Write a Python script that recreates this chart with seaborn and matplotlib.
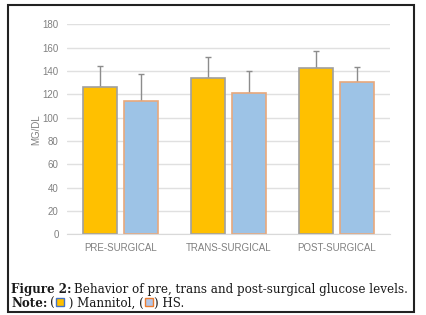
import pandas as pd
import numpy as np
import matplotlib
matplotlib.use("Agg")
import matplotlib.pyplot as plt
from matplotlib.patches import Rectangle
import seaborn as sns

# data
phases = ['PRE-SURGICAL', 'TRANS-SURGICAL', 'POST-SURGICAL']
groups = ['Mannitol', 'HS']
mannitol = [126.5, 134.2, 142.8]
hs = [114.0, 121.4, 130.3]
mannitol_top = [144.0, 151.7, 156.9]
hs_top = [137.0, 140.2, 143.1]

df = pd.DataFrame({
    'phase': phases * 2,
    'group': [groups[0]] * 3 + [groups[1]] * 3,
    'value': mannitol + hs,
})

sns.set_style("white")
fig = plt.figure(figsize=(4.26, 3.15), dpi=100)
ax = fig.add_axes([67 / 426, 1 - 234.3 / 315, 323 / 426, 210 / 315])

colors = {'Mannitol': '#FFC000', 'HS': '#9DC3E6'}
edges = {'Mannitol': '#A0A0A0', 'HS': '#E8A87C'}
sns.barplot(data=df, x='phase', y='value', hue='group', order=phases,
            hue_order=groups, palette=colors, width=0.762, gap=0.17,
            errorbar=None, legend=False, ax=ax, saturation=1, zorder=2)

tops = {'Mannitol': mannitol_top, 'HS': hs_top}
vals = {'Mannitol': mannitol, 'HS': hs}
for cont, g in zip(ax.containers, groups):
    xs = []
    for bar in cont:
        bar.set_edgecolor(edges[g])
        bar.set_linewidth(1.2)
        xs.append(bar.get_x() + bar.get_width() / 2)
    up = np.array(tops[g]) - np.array(vals[g])
    ax.errorbar(xs, vals[g], yerr=[np.zeros(3), up], fmt='none',
                ecolor='#8C8C8C', elinewidth=1, capsize=2.5, capthick=1, zorder=1)

ax.set_ylim(0, 180)
ax.set_xlim(-0.5, 2.5)
ax.set_yticks(range(0, 181, 20))
ax.yaxis.grid(True, color='#E0E0E0', linewidth=1)
ax.set_axisbelow(True)
for s in ['top', 'right', 'left']:
    ax.spines[s].set_visible(False)
ax.spines['bottom'].set_color('#D9D9D9')
ax.tick_params(axis='both', length=0, labelsize=7, colors='#808080', pad=6)
for lab in ax.get_xticklabels() + ax.get_yticklabels():
    lab.set_family('Liberation Sans')
ax.set_xlabel('')
ax.set_ylabel('MG/DL', fontsize=7, color='#808080', family='Liberation Sans', labelpad=1)

# outer frame
fig.patches.append(Rectangle((8 / 426, 1 - 312 / 315), 406 / 426, 307 / 315,
                             transform=fig.transFigure, fill=False,
                             edgecolor='#222222', linewidth=1.5))

# caption
serif = 'DejaVu Serif'
fig.canvas.draw()
r = fig.canvas.get_renderer()


def put(x, y, s, **kw):
    t = fig.text(x / 426, 1 - y / 315, s, va='baseline', ha='left', family=serif,
                 fontsize=8.6, color='#1a1a1a', **kw)
    bb = t.get_window_extent(renderer=r)
    return x + bb.width


x = put(11, 293, 'Figure 2:', weight='bold')
put(x + 3, 293, 'Behavior of pre, trans and post-surgical glucose levels.')

x = put(11, 307, 'Note:', weight='bold')
x = put(x + 3, 307, '(')
fig.patches.append(Rectangle(((x + 1) / 426, 1 - 306 / 315), 8 / 426, 8 / 315,
                             transform=fig.transFigure, facecolor='#FFC000',
                             edgecolor='#4472C4', linewidth=1))
x = put(x + 10, 307, ' ) Mannitol, (')
fig.patches.append(Rectangle(((x + 1) / 426, 1 - 306 / 315), 8 / 426, 8 / 315,
                             transform=fig.transFigure, facecolor='#B4C7E7',
                             edgecolor='#ED7D31', linewidth=1))
put(x + 10, 307, ') HS.')

fig.savefig('out.png', dpi=100)
